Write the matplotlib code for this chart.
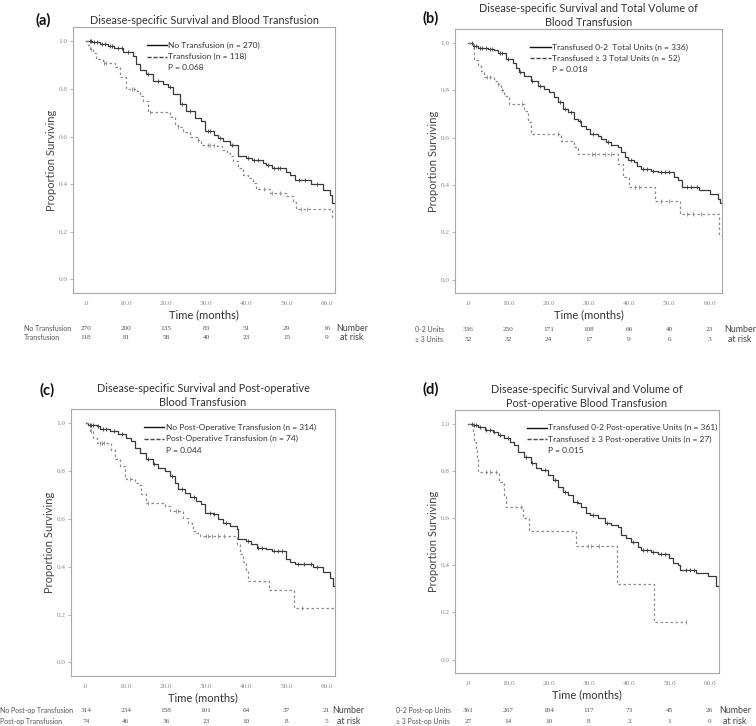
import matplotlib
matplotlib.use("Agg")
import matplotlib.pyplot as plt
import matplotlib.transforms as mtransforms
import numpy as np

plt.rcParams['font.family'] = ['Lato', 'DejaVu Sans']

# ---- panel (a): any transfusion ----
a_solid_t = [0, 1.5, 3.5, 5.5, 7.0, 9.3, 11.6, 12.5, 13.5, 15.0, 16.8, 19.3, 20.5, 21.8, 23.4, 25.0,
             27.2, 28.8, 29.7, 31.8, 33.0, 34.2, 35.9, 38.0, 40.0, 41.3, 44.2, 45.0, 46.3, 50.0, 50.9,
             52.0, 56.2, 59.2, 60.8, 61.3, 62.1]
a_solid_s = [1.0, 0.995, 0.989, 0.982, 0.970, 0.953, 0.940, 0.904, 0.880, 0.862, 0.834, 0.820, 0.806,
             0.777, 0.735, 0.707, 0.679, 0.665, 0.623, 0.608, 0.594, 0.580, 0.566, 0.517, 0.510, 0.500,
             0.489, 0.482, 0.470, 0.453, 0.439, 0.418, 0.400, 0.376, 0.355, 0.320, 0.320]
a_dash_t = [0, 0.6, 1.0, 1.8, 2.6, 4.3, 7.2, 8.5, 10.1, 12.6, 13.5, 14.3, 15.5, 20.9, 22.2, 23.0, 24.3,
            25.9, 27.6, 28.8, 32.6, 33.8, 35.1, 35.9, 36.7, 38.0, 39.2, 40.5, 41.7, 42.4, 45.9, 50.0,
            51.7, 52.4, 61.3, 62.1]
a_dash_s = [1.0, 0.983, 0.966, 0.950, 0.925, 0.910, 0.890, 0.848, 0.800, 0.790, 0.770, 0.750, 0.704,
            0.680, 0.650, 0.640, 0.620, 0.600, 0.585, 0.566, 0.560, 0.545, 0.530, 0.517, 0.496, 0.468,
            0.440, 0.425, 0.404, 0.379, 0.365, 0.350, 0.327, 0.294, 0.263, 0.263]
a_solid_cens = [1.0, 1.3, 2.0, 2.8, 4.0, 4.8, 6.0, 6.5, 8.0, 9.0, 10.5, 15.5, 18.0, 21.0, 24.0, 26.0,
                30.5, 31.0, 33.5, 36.5, 40.5, 42.0, 43.0, 45.5, 47.0, 47.8, 48.5, 53.0, 54.5, 57.5]
a_dash_cens = [1.2, 4.5, 5.0, 11.5, 12.0, 16.0, 23.0, 28.0, 30.5, 31.0, 32.0, 44.5, 46.5, 48.5, 53.5,
               55.0]

# ---- panel (b): total units ----
b_solid_t = [0, 1.2, 2.4, 4.9, 6.5, 7.4, 9.4, 11.1, 11.9, 12.8, 14.0, 15.7, 17.3, 19.0, 20.2, 21.5,
             22.3, 23.5, 24.8, 26.4, 27.3, 28.1, 29.3, 30.2, 32.2, 33.1, 34.3, 35.5, 37.2, 38.0, 38.9,
             39.7, 41.3, 42.1, 43.0, 45.5, 47.1, 51.3, 52.1, 53.1, 57.5, 60.0, 62.2, 62.6, 63.1]
b_solid_s = [1.0, 0.990, 0.980, 0.975, 0.970, 0.960, 0.932, 0.918, 0.897, 0.879, 0.862, 0.840, 0.820,
             0.806, 0.792, 0.771, 0.750, 0.722, 0.707, 0.679, 0.672, 0.651, 0.637, 0.616, 0.609, 0.595,
             0.581, 0.571, 0.560, 0.539, 0.518, 0.504, 0.497, 0.482, 0.468, 0.461, 0.454, 0.433, 0.419,
             0.391, 0.377, 0.363, 0.342, 0.323, 0.323]
b_dash_t = [0, 1.2, 1.6, 2.4, 3.2, 4.1, 6.5, 7.4, 8.2, 9.0, 10.3, 14.0, 15.0, 15.7, 23.1, 26.4, 27.3,
            37.3, 38.4, 40.1, 46.5, 52.7, 62.3, 62.8, 63.1]
b_dash_s = [1.0, 0.980, 0.930, 0.904, 0.883, 0.858, 0.840, 0.827, 0.800, 0.778, 0.743, 0.714, 0.665,
            0.616, 0.588, 0.560, 0.532, 0.490, 0.433, 0.391, 0.332, 0.278, 0.194, 0.187, 0.187]
b_solid_cens = [1.0, 1.5, 2.0, 3.0, 3.5, 4.5, 5.5, 6.0, 8.0, 8.5, 10.0, 13.0, 16.0, 18.0, 22.8, 24.0,
                25.5, 27.8, 31.0, 34.8, 40.5, 43.5, 44.5, 46.0, 48.0, 49.0, 50.0, 54.5, 55.5, 57.0]
b_dash_cens = [4.8, 5.5, 7.5, 8.5, 13.5, 22.5, 30.8, 31.5, 34.0, 35.5, 41.5, 42.5, 48.0, 50.0, 54.5,
               56.0, 58.0]

# ---- panel (c): post-operative transfusion ----
c_solid_t = [0, 0.6, 2.7, 3.5, 6.0, 8.1, 10.1, 11.4, 12.2, 13.5, 15.1, 16.8, 18.0, 19.7, 20.9, 22.2,
             23.0, 24.7, 26.0, 27.6, 28.8, 29.7, 31.8, 33.0, 34.2, 35.9, 37.6, 38.0, 40.0, 41.3, 42.6,
             45.0, 46.3, 50.0, 50.9, 52.1, 56.7, 59.2, 60.8, 61.5, 62.1]
c_solid_s = [1.0, 0.995, 0.989, 0.978, 0.968, 0.954, 0.940, 0.926, 0.898, 0.877, 0.850, 0.829, 0.815,
             0.800, 0.780, 0.752, 0.724, 0.710, 0.690, 0.675, 0.662, 0.627, 0.620, 0.600, 0.585, 0.571,
             0.557, 0.515, 0.508, 0.494, 0.480, 0.473, 0.466, 0.432, 0.418, 0.410, 0.397, 0.376, 0.355,
             0.320, 0.320]
c_dash_t = [0, 1.0, 1.8, 2.7, 6.4, 7.2, 8.5, 9.7, 10.1, 12.2, 13.0, 13.9, 15.1, 19.7, 21.0, 24.3, 25.5,
            26.4, 26.8, 27.6, 28.4, 37.6, 38.4, 39.2, 40.0, 40.5, 45.7, 51.9, 62.1]
c_dash_s = [1.0, 0.968, 0.940, 0.919, 0.890, 0.850, 0.822, 0.780, 0.769, 0.752, 0.741, 0.703, 0.668,
            0.655, 0.634, 0.606, 0.585, 0.571, 0.550, 0.543, 0.529, 0.494, 0.453, 0.418, 0.383, 0.341,
            0.302, 0.227, 0.227]
c_solid_cens = [1.0, 1.3, 1.8, 3.0, 4.2, 5.0, 7.0, 9.0, 15.5, 17.0, 21.5, 24.0, 27.0, 31.0, 32.0,
                35.0, 40.5, 43.0, 44.0, 47.0, 48.0, 49.0, 53.0, 54.5, 56.0, 57.5]
c_dash_cens = [1.2, 3.5, 4.0, 4.5, 11.0, 15.5, 22.5, 23.0, 30.0, 30.5, 31.5, 33.0, 34.5, 54.0]

# ---- panel (d): post-operative units ----
d_solid_t = [0, 1.2, 2.4, 4.1, 6.1, 7.4, 9.0, 10.3, 11.5, 12.3, 14.0, 15.7, 16.9, 18.1, 19.8, 21.0,
             22.3, 23.5, 24.8, 26.0, 27.3, 28.1, 29.3, 30.2, 32.2, 33.9, 35.5, 37.2, 38.0, 39.3, 40.5,
             42.2, 43.0, 45.5, 47.1, 50.0, 50.9, 52.1, 52.5, 56.7, 59.6, 61.6, 62.3]
d_solid_s = [1.0, 0.995, 0.989, 0.975, 0.968, 0.953, 0.939, 0.925, 0.911, 0.883, 0.862, 0.833, 0.815,
             0.805, 0.784, 0.763, 0.734, 0.713, 0.699, 0.671, 0.664, 0.650, 0.621, 0.614, 0.600, 0.582,
             0.572, 0.565, 0.530, 0.516, 0.501, 0.480, 0.466, 0.459, 0.449, 0.431, 0.412, 0.403, 0.381,
             0.367, 0.353, 0.311, 0.311]
d_dash_t = [0, 1.2, 1.6, 1.9, 2.2, 2.4, 7.8, 9.0, 9.4, 13.6, 15.2, 26.8, 37.0, 46.1, 54.2]
d_dash_s = [1.0, 0.963, 0.926, 0.889, 0.852, 0.798, 0.756, 0.699, 0.647, 0.600, 0.544, 0.483, 0.321,
            0.160, 0.160]
d_solid_cens = [1.0, 1.4, 2.0, 3.0, 4.5, 5.5, 6.5, 8.0, 10.0, 14.5, 16.0, 19.0, 21.5, 24.0, 27.0, 31.0,
                34.5, 41.0, 43.5, 44.5, 46.0, 48.0, 49.0, 54.0, 55.0, 56.0]
d_dash_cens = [4.5, 5.5, 7.0, 13.2, 29.8, 30.5, 32.5, 54.2]

titles = ["Disease-specific Survival and Blood Transfusion",
          "Disease-specific Survival and Total Volume of\nBlood Transfusion",
          "Disease-specific Survival and Post-operative\nBlood Transfusion",
          "Disease-specific Survival and Volume of\nPost-operative Blood Transfusion"]
panel_tags = ["(a)", "(b)", "(c)", "(d)"]
legend_solid = ["No Transfusion (n = 270)",
                "Transfused 0-2  Total Units (n = 336)",
                "No Post-Operative Transfusion (n = 314)",
                "Transfused 0-2 Post-operative Units (n = 361)"]
legend_dash = ["Transfusion (n = 118)",
               "Transfused \u2265 3 Total Units (n = 52)",
               "Post-Operative Transfusion (n = 74)",
               "Transfused \u2265 3 Post-operative Units (n = 27)"]
p_values = ["P = 0.068", "P = 0.018", "P = 0.044", "P = 0.015"]

risk_times = [0, 10, 20, 30, 40, 50, 60]
risk_labels = [("No Transfusion", "Transfusion"),
               ("0-2 Units", "\u2265 3 Units"),
               ("No Post-op Transfusion", "Post-op Transfusion"),
               ("0-2 Post-op Units", "\u2265 3 Post-op Units")]
risk_solid = [[270, 200, 135, 83, 51, 29, 16],
              [336, 250, 171, 108, 66, 40, 23],
              [314, 234, 158, 101, 64, 37, 21],
              [361, 267, 184, 117, 73, 45, 26]]
risk_dash = [[118, 81, 58, 40, 23, 15, 9],
             [52, 32, 24, 17, 9, 6, 3],
             [74, 46, 36, 23, 10, 8, 5],
             [27, 14, 10, 8, 2, 1, 0]]

curves = [(a_solid_t, a_solid_s, a_dash_t, a_dash_s, a_solid_cens, a_dash_cens),
          (b_solid_t, b_solid_s, b_dash_t, b_dash_s, b_solid_cens, b_dash_cens),
          (c_solid_t, c_solid_s, c_dash_t, c_dash_s, c_solid_cens, c_dash_cens),
          (d_solid_t, d_solid_s, d_dash_t, d_dash_s, d_solid_cens, d_dash_cens)]

SOLID = '#3a3a3a'
DASH = '#8a8a8a'
FRAME = '#a8a8a8'


def step_value(t, s, x):
    i = np.searchsorted(t, x, side='right') - 1
    return np.asarray(s)[i]


def draw_panel(ax, k, xlim, leg_x, risk_y, lab_x, num_x):
    st, ss, dt, ds, sc, dc = curves[k]
    ax.step(st, ss, where='post', color=SOLID, lw=0.9)
    ax.step(dt, ds, where='post', color=DASH, lw=0.9, linestyle=(0, (2, 2)))
    ax.plot(sc, step_value(st, ss, sc), '|', color=SOLID, ms=2.5, mew=0.6)
    ax.plot(dc, step_value(dt, ds, dc), '|', color=DASH, ms=2.5, mew=0.6)

    ax.set_xlim(*xlim)
    ax.set_ylim(-0.057, 1.06)
    ax.set_xticks(risk_times)
    ax.set_xticklabels(['.0'] + ['%.1f' % v for v in risk_times[1:]])
    ax.set_yticks([0, 0.2, 0.4, 0.6, 0.8, 1.0])
    ax.set_yticklabels(['0.0', '0.2', '0.4', '0.6', '0.8', '1.0'])
    ax.tick_params(axis='x', length=0, pad=6, labelsize=5.2, labelcolor='#8a8a8a')
    ax.tick_params(axis='y', length=2.5, width=0.6, color=FRAME, pad=1.5,
                   labelsize=5.2, labelcolor='#8a8a8a')
    for lab in ax.get_xticklabels() + ax.get_yticklabels():
        lab.set_family('Liberation Serif')
    for sp in ax.spines.values():
        sp.set_color(FRAME)
        sp.set_linewidth(0.8)
    ax.set_ylabel('Proportion Surviving', fontsize=8, color='#444444', labelpad=1)
    ax.set_xlabel('Time (months)', fontsize=8, color='#333333', labelpad=2)
    ax.set_title(titles[k], fontsize=7.8, color='#333333', pad=2.5, linespacing=1.3)

    # legend drawn by hand to keep the P value row
    rows = [0.932, 0.889, 0.846]
    ax.plot([leg_x, leg_x + 0.077], [rows[0], rows[0]], transform=ax.transAxes,
            color='#111111', lw=1.0)
    ax.plot([leg_x, leg_x + 0.077], [rows[1], rows[1]], transform=ax.transAxes,
            color='#444444', lw=1.0, linestyle=(0, (3, 1.3)))
    for txt, y in zip([legend_solid[k], legend_dash[k], p_values[k]], rows):
        ax.text(leg_x + 0.081, y, txt, transform=ax.transAxes, fontsize=6.0,
                color='#333333', va='center', ha='left')

    # number at risk table
    trans = mtransforms.blended_transform_factory(ax.transData, ax.transAxes)
    for row, labs, y in zip([risk_solid[k], risk_dash[k]], risk_labels[k], risk_y):
        ax.text(lab_x, y, labs, transform=ax.transAxes, fontsize=5, color='#555555',
                va='center', ha='left')
        for t, n in zip(risk_times, row):
            ax.text(t, y, str(n), transform=trans, fontsize=5.2, color='#555555',
                    va='center', ha='center', family='Liberation Serif')
    ax.text(num_x, risk_y[0], 'Number', transform=ax.transAxes, fontsize=6.4,
            color='#444444', va='center', ha='center')
    ax.text(num_x, risk_y[1], 'at risk', transform=ax.transAxes, fontsize=6.4,
            color='#444444', va='center', ha='center')


def main() -> None:
    fig = plt.figure(figsize=(7.56, 7.26), dpi=100)
    W, H = 756, 726
    boxes = [(73, 27, 335, 293), (455, 29, 722, 293), (71, 409, 335, 676), (455, 410, 719, 673)]
    xlims = [(-3.24, 62.1), (-3.2, 63.1), (-3.66, 62.1), (-3.23, 62.3)]
    leg_xs = [0.282, 0.281, 0.277, 0.273]
    risk_ys = [(-0.135, -0.169), (-0.139, -0.176), (-0.131, -0.172), (-0.144, -0.186)]
    lab_xs = [-0.187, -0.15, -0.269, -0.223]
    num_xs = [1.065, 1.067, 1.05, 1.06]
    tag_pos = [(43, 20), (431, 18), (47, 390), (431, 389)]
    for k, (l, t, r, b) in enumerate(boxes):
        ax = fig.add_axes([l / W, 1 - b / H, (r - l) / W, (b - t) / H])
        draw_panel(ax, k, xlims[k], leg_xs[k], risk_ys[k], lab_xs[k], num_xs[k])
        fig.text(tag_pos[k][0] / W, 1 - tag_pos[k][1] / H, panel_tags[k], fontsize=10.5,
                 fontweight='bold', ha='center', va='center', color='#111111')
    fig.savefig('out.png', dpi=100)


if __name__ == '__main__':
    main()
